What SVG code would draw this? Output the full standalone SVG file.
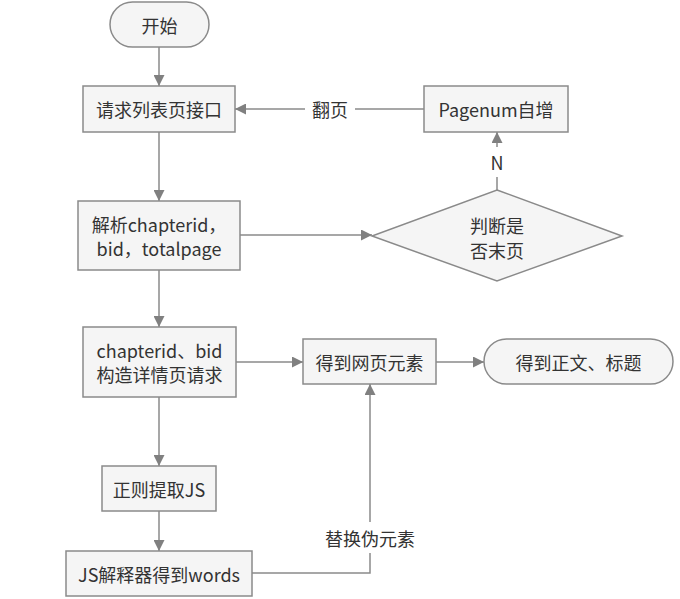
<svg xmlns="http://www.w3.org/2000/svg" width="680" height="599" viewBox="0 0 680 599">
<style>
.n{fill:#f5f5f5;stroke:#8a8a8a;stroke-width:1.5}
.c{fill:none;stroke:#8a8a8a;stroke-width:1.5}
text{font-family:"Noto Sans CJK SC","Microsoft YaHei",sans-serif;font-size:18px;fill:#333;text-anchor:middle;dominant-baseline:central}
</style>
<defs>
<marker id="a" viewBox="0 0 10 10" refX="10" refY="5" markerWidth="11" markerHeight="11" markerUnits="userSpaceOnUse" orient="auto">
<path d="M0,0 L10,5 L0,10 z" fill="#808080"/>
</marker>
</defs>
<rect width="680" height="599" fill="#fff"/>
<g id="connectors">
<line class="c" x1="159" y1="47" x2="159" y2="86" marker-end="url(#a)"/>
<line class="c" x1="424" y1="109" x2="355" y2="109"/>
<line class="c" x1="305" y1="109" x2="235" y2="109" marker-end="url(#a)"/>
<text x="330" y="109">翻页</text>
<line class="c" x1="159" y1="132" x2="159" y2="201" marker-end="url(#a)"/>
<line class="c" x1="497" y1="190" x2="497" y2="177"/>
<line class="c" x1="497" y1="147" x2="497" y2="132" marker-end="url(#a)"/>
<text x="497" y="162">N</text>
<line class="c" x1="240" y1="235" x2="372" y2="235" marker-end="url(#a)"/>
<line class="c" x1="159" y1="270" x2="159" y2="327" marker-end="url(#a)"/>
<line class="c" x1="236" y1="362" x2="303" y2="362" marker-end="url(#a)"/>
<line class="c" x1="436" y1="362" x2="484" y2="362" marker-end="url(#a)"/>
<line class="c" x1="159" y1="397" x2="159" y2="466" marker-end="url(#a)"/>
<line class="c" x1="159" y1="511" x2="159" y2="551" marker-end="url(#a)"/>
<polyline class="c" points="252,573 370,573 370,553"/>
<line class="c" x1="370" y1="522" x2="370" y2="384" marker-end="url(#a)"/>
<text x="370" y="538">替换伪元素</text>
</g>
<g id="start">
<rect class="n" x="110" y="2" width="99" height="45" rx="22.5"/>
<text x="159.5" y="25">开始</text>
</g>
<g id="request">
<rect class="n" x="83" y="86" width="152" height="46"/>
<text x="159" y="109">请求列表页接口</text>
</g>
<g id="pagenum">
<rect class="n" x="424" y="86" width="144" height="46"/>
<text x="496" y="109">Pagenum自增</text>
</g>
<g id="parse">
<rect class="n" x="78" y="201" width="162" height="69"/>
<text x="159" y="224">解析chapterid，</text>
<text x="159" y="248">bid，totalpage</text>
</g>
<g id="decision">
<polygon class="n" points="497,190 622,236 497,281 372,236"/>
<text x="497" y="225">判断是</text>
<text x="497" y="250">否末页</text>
</g>
<g id="build">
<rect class="n" x="83" y="327" width="153" height="70"/>
<text x="159.5" y="350">chapterid、bid</text>
<text x="159.5" y="374">构造详情页请求</text>
</g>
<g id="elements">
<rect class="n" x="303" y="339" width="133" height="45"/>
<text x="369.5" y="362">得到网页元素</text>
</g>
<g id="end">
<rect class="n" x="484" y="339" width="189" height="45" rx="22.5"/>
<text x="578.5" y="362">得到正文、标题</text>
</g>
<g id="regex">
<rect class="n" x="102" y="466" width="114" height="45"/>
<text x="159" y="489">正则提取JS</text>
</g>
<g id="jsinterp">
<rect class="n" x="66" y="551" width="186" height="45"/>
<text x="159" y="574">JS解释器得到words</text>
</g>
</svg>
